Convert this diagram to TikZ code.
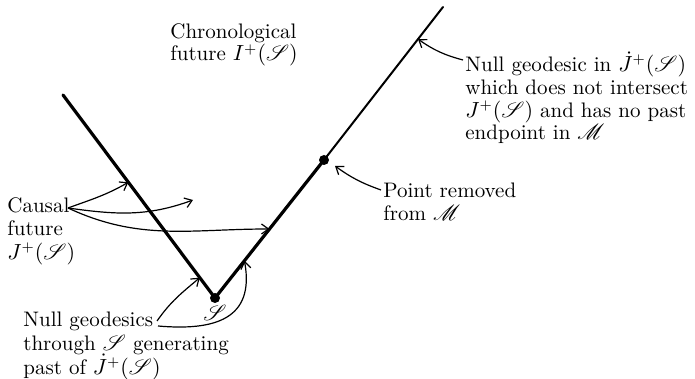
\documentclass[tikz,border=0pt]{standalone}
\usepackage{amsmath}
\usepackage{mathrsfs}
\usepackage{tikz}
\usetikzlibrary{arrows.meta,calc}

\newcommand{\lblfont}{\fontsize{10.5}{11.4}\selectfont\lineskiplimit=-20pt\relax}
\newcommand{\lblwidefont}{\fontsize{10.5}{11.8}\selectfont\lineskiplimit=-20pt\relax}

\begin{document}
\begin{tikzpicture}[
    x=0.5pt, y=0.5pt,
    lbl/.style={anchor=north west, inner sep=0pt, align=left, font=\lblfont},
    lblwide/.style={lbl, font=\lblwidefont},
    geo/.style={line width=1.6pt, line cap=round},
    geothin/.style={line width=1pt, line cap=round},
    pt/.style={circle, fill, inner sep=0pt, minimum size=5pt},
    arr/.style={-{Straight Barb[length=3.5pt,width=5pt]}, line width=0.6pt}
]
\useasboundingbox (0,0) rectangle (695,379);

% light cone of S with one point cut out
\coordinate (S) at (215,81);
\coordinate (P) at (324,219);
\coordinate (L) at (63,284);
\coordinate (T) at (443,372);
\draw[geo] (L) -- (S) -- (P);
\draw[geothin] (P) -- (T);
\node[pt] (sdot) at (S) {};
\node[pt] (pdot) at (P) {};
\node[inner sep=0pt, font=\lblfont] (slabel) at (215,66) {$\mathscr{S}$};

% labels
\node[lbl] (chrono) at (170,356) {Chronological\\future $I^+(\mathscr{S})$};
\node[lbl] (nullout) at (465,328) {Null geodesic in $\dot{J}^+(\mathscr{S})$\\which does not intersect\\$J^+(\mathscr{S})$ and has no past\\endpoint in $\mathscr{M}$};
\node[lbl] (removed) at (383,196) {Point removed\\from $\mathscr{M}$};
\node[lblwide] (causal) at (7,182) {Causal\\future\\$J^+(\mathscr{S})$};
\node[lblwide] (nullgen) at (23,67) {Null geodesics\\through $\mathscr{S}$ generating\\past of $\dot{J}^+(\mathscr{S})$};

% arrows
\coordinate (cstart) at (68,171);
\coordinate (cmid) at (193,179);
\coordinate (ptip) at (335,213);
\draw[arr] ($(nullout.north west)+(-2,-9)$) to[bend left=10] ($(P)!0.79!(T)$);
\draw[arr] ($(removed.north west)+(-2,-7)$) to[bend left=8] (ptip);
\draw[arr] (cstart) to[out=20, in=-150] ($(S)!0.57!(L)$);
\draw[arr] (cstart) to[out=-8, in=-160] (cmid);
\draw[arr] (cstart) to[out=-25, in=180] ($(S)!0.5!(P)$);
\draw[arr] ($(nullgen.north west)+(134,-9)$) to[out=55, in=-140] ($(S)!0.1!(L)$);
\draw[arr] ($(nullgen.north west)+(135,-14)$) .. controls (215,48) and (255,60) .. ($(S)!0.27!(P)$);
\end{tikzpicture}
\end{document}
